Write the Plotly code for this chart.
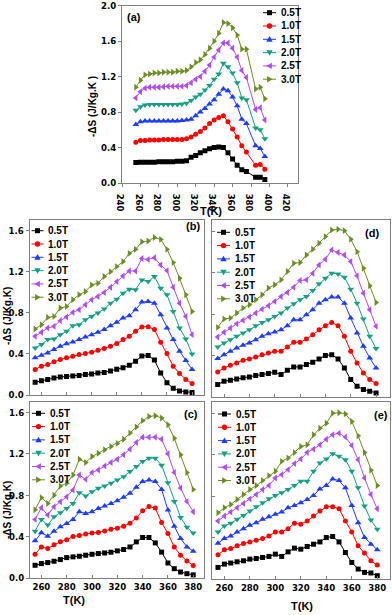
import plotly.graph_objects as go

# temperatures (K)
temps_a = [255, 260, 265, 270, 275, 280, 285, 290, 295, 300, 305, 310, 315, 320,
           325, 330, 335, 340, 345, 350, 355, 360, 365, 370, 375, 385, 390, 395]
temps = [255, 260, 265, 270, 275, 280, 285, 290, 295, 300, 305, 310, 315, 320,
         325, 330, 335, 340, 345, 350, 355, 360, 365, 370, 375, 380]

fields = ['0.5T', '1.0T', '1.5T', '2.0T', '2.5T', '3.0T']

# panel (a)
a_05 = [0.23, 0.235, 0.235, 0.235, 0.235, 0.24, 0.24, 0.24, 0.24, 0.245, 0.245, 0.25,
        0.29, 0.31, 0.34, 0.365, 0.385, 0.40, 0.405, 0.40, 0.34, 0.27, 0.20, 0.15, 0.13,
        0.065, 0.065, 0.04]
a_10 = [0.46, 0.48, 0.48, 0.485, 0.485, 0.485, 0.49, 0.49, 0.49, 0.49, 0.49, 0.50,
        0.52, 0.55, 0.58, 0.62, 0.67, 0.71, 0.74, 0.76, 0.69, 0.61, 0.52, 0.42, 0.35,
        0.20, 0.21, 0.155]
a_15 = [0.66, 0.69, 0.70, 0.70, 0.70, 0.70, 0.70, 0.70, 0.70, 0.70, 0.705, 0.71,
        0.72, 0.76, 0.80, 0.84, 0.89, 0.94, 1.00, 1.06, 1.04, 0.97, 0.87, 0.72, 0.67,
        0.42, 0.39, 0.30]
a_20 = [0.82, 0.86, 0.88, 0.885, 0.885, 0.885, 0.885, 0.885, 0.885, 0.885, 0.89, 0.90,
        0.93, 0.97, 1.00, 1.05, 1.10, 1.17, 1.23, 1.35, 1.31, 1.24, 1.13, 0.96, 0.94,
        0.62, 0.60, 0.50]
a_25 = [0.96, 1.03, 1.07, 1.08, 1.08, 1.08, 1.085, 1.09, 1.09, 1.09, 1.09, 1.10,
        1.13, 1.17, 1.20, 1.26, 1.33, 1.42, 1.50, 1.58, 1.58, 1.52, 1.42, 1.27, 1.19,
        0.83, 0.85, 0.71]
a_30 = [1.08, 1.16, 1.22, 1.23, 1.24, 1.24, 1.25, 1.25, 1.25, 1.26, 1.26, 1.27,
        1.31, 1.36, 1.39, 1.45, 1.52, 1.60, 1.69, 1.81, 1.80, 1.75, 1.67, 1.51, 1.51,
        1.06, 1.08, 0.95]

# panel (b)
b_05 = [0.125, 0.14, 0.15, 0.165, 0.175, 0.18, 0.185, 0.19, 0.20, 0.205, 0.215, 0.22, 0.235,
        0.25, 0.265, 0.29, 0.33, 0.38, 0.385, 0.34, 0.215, 0.12, 0.065, 0.04, 0.03, 0.025]
b_10 = [0.249, 0.281, 0.297, 0.323, 0.346, 0.362, 0.378, 0.394, 0.404, 0.417, 0.436, 0.452, 0.475,
        0.501, 0.540, 0.572, 0.62, 0.663, 0.666, 0.637, 0.514, 0.404, 0.281, 0.210, 0.152, 0.113]
b_15 = [0.362, 0.388, 0.41, 0.443, 0.475, 0.50, 0.517, 0.54, 0.566, 0.588, 0.611, 0.637, 0.675,
        0.708, 0.75, 0.772, 0.83, 0.905, 0.911, 0.895, 0.782, 0.653, 0.54, 0.427, 0.336, 0.249]
b_20 = [0.459, 0.491, 0.54, 0.546, 0.588, 0.62, 0.675, 0.685, 0.734, 0.766, 0.80, 0.837, 0.895,
        0.934, 0.992, 1.031, 1.025, 1.12, 1.105, 1.154, 1.04, 0.976, 0.814, 0.653, 0.546, 0.40]
b_25 = [0.572, 0.611, 0.653, 0.669, 0.724, 0.76, 0.805, 0.83, 0.879, 0.928, 0.96, 0.999, 1.05,
        1.105, 1.16, 1.209, 1.209, 1.33, 1.32, 1.338, 1.267, 1.212, 1.05, 0.895, 0.766, 0.588]
b_30 = [0.643, 0.685, 0.756, 0.766, 0.847, 0.863, 0.928, 0.976, 1.008, 1.073, 1.089, 1.154, 1.202,
        1.251, 1.30, 1.38, 1.419, 1.493, 1.50, 1.535, 1.516, 1.419, 1.29, 1.138, 0.976, 0.814]

# panel (d)
d_05 = [0.116, 0.148, 0.158, 0.171, 0.181, 0.19, 0.203, 0.213, 0.223, 0.235, 0.213, 0.255, 0.287,
        0.287, 0.31, 0.332, 0.365, 0.397, 0.406, 0.365, 0.277, 0.165, 0.10, 0.068, 0.052, 0.035]
d_10 = [0.239, 0.277, 0.303, 0.326, 0.352, 0.365, 0.384, 0.406, 0.423, 0.439, 0.439, 0.481, 0.526,
        0.526, 0.558, 0.60, 0.648, 0.687, 0.719, 0.687, 0.584, 0.439, 0.326, 0.229, 0.165, 0.126]
d_15 = [0.368, 0.406, 0.439, 0.471, 0.497, 0.519, 0.552, 0.584, 0.61, 0.626, 0.648, 0.687, 0.745,
        0.745, 0.794, 0.842, 0.906, 0.939, 0.965, 0.965, 0.906, 0.761, 0.616, 0.487, 0.374, 0.277]
d_20 = [0.481, 0.519, 0.552, 0.584, 0.616, 0.648, 0.687, 0.719, 0.745, 0.777, 0.81, 0.858, 0.90,
        0.939, 0.971, 1.029, 1.094, 1.148, 1.197, 1.19, 1.158, 1.042, 0.906, 0.752, 0.584, 0.465]
d_25 = [0.577, 0.623, 0.665, 0.706, 0.739, 0.771, 0.81, 0.848, 0.881, 0.923, 0.971, 1.01, 1.061,
        1.126, 1.132, 1.197, 1.277, 1.332, 1.423, 1.397, 1.374, 1.31, 1.171, 1.003, 0.842, 0.681]
d_30 = [0.671, 0.752, 0.761, 0.81, 0.858, 0.89, 0.939, 0.987, 1.052, 1.084, 1.132, 1.213, 1.294,
        1.30, 1.374, 1.429, 1.487, 1.552, 1.616, 1.623, 1.61, 1.526, 1.406, 1.245, 1.074, 0.913]

# panel (c)
c_05 = [0.123, 0.139, 0.149, 0.162, 0.178, 0.197, 0.204, 0.21, 0.22, 0.229, 0.236, 0.242, 0.249,
        0.262, 0.275, 0.30, 0.349, 0.391, 0.391, 0.339, 0.25, 0.145, 0.09, 0.058, 0.042, 0.03]
c_10 = [0.23, 0.30, 0.285, 0.32, 0.35, 0.37, 0.40, 0.41, 0.425, 0.435, 0.44, 0.455, 0.47,
        0.48, 0.50, 0.53, 0.58, 0.65, 0.69, 0.675, 0.535, 0.43, 0.30, 0.22, 0.165, 0.12]
c_15 = [0.359, 0.436, 0.404, 0.452, 0.494, 0.527, 0.566, 0.64, 0.624, 0.64, 0.672, 0.695, 0.72,
        0.747, 0.779, 0.818, 0.876, 0.931, 0.947, 0.931, 0.856, 0.656, 0.50, 0.381, 0.30, 0.259]
c_20 = [0.452, 0.566, 0.511, 0.591, 0.63, 0.672, 0.72, 0.824, 0.792, 0.834, 0.866, 0.889, 0.915,
        0.947, 0.979, 1.028, 1.076, 1.125, 1.157, 1.157, 1.09, 0.92, 0.74, 0.585, 0.49, 0.435]
c_25 = [0.566, 0.679, 0.608, 0.688, 0.737, 0.785, 0.85, 0.995, 0.953, 1.018, 1.044, 1.083, 1.115,
        1.147, 1.19, 1.244, 1.309, 1.36, 1.36, 1.36, 1.34, 1.20, 1.02, 0.87, 0.74, 0.64]
c_30 = [0.66, 0.776, 0.72, 0.80, 0.889, 0.915, 0.995, 1.147, 1.115, 1.173, 1.205, 1.238, 1.27,
        1.30, 1.34, 1.40, 1.458, 1.52, 1.56, 1.568, 1.545, 1.48, 1.35, 1.19, 1.018, 0.856]

# panel (e)
e_05 = [0.112, 0.144, 0.154, 0.166, 0.176, 0.192, 0.198, 0.208, 0.218, 0.24, 0.218, 0.262, 0.298,
        0.288, 0.314, 0.336, 0.358, 0.40, 0.41, 0.358, 0.256, 0.16, 0.096, 0.064, 0.058, 0.032]
e_10 = [0.234, 0.282, 0.294, 0.32, 0.342, 0.358, 0.374, 0.39, 0.416, 0.454, 0.454, 0.486, 0.538,
        0.528, 0.56, 0.608, 0.656, 0.698, 0.698, 0.678, 0.56, 0.454, 0.32, 0.25, 0.176, 0.134]
e_15 = [0.346, 0.39, 0.416, 0.454, 0.486, 0.518, 0.544, 0.576, 0.602, 0.624, 0.646, 0.688, 0.71,
        0.736, 0.768, 0.806, 0.87, 0.902, 0.966, 0.95, 0.88, 0.71, 0.544, 0.40, 0.336, 0.282]
e_20 = [0.454, 0.512, 0.538, 0.576, 0.614, 0.656, 0.698, 0.736, 0.774, 0.806, 0.832, 0.864, 0.902,
        0.944, 0.944, 1.04, 1.12, 1.158, 1.21, 1.184, 1.152, 1.04, 0.88, 0.704, 0.57, 0.48]
e_25 = [0.56, 0.608, 0.646, 0.688, 0.73, 0.774, 0.816, 0.864, 0.902, 0.976, 1.008, 1.056, 1.114,
        1.158, 1.222, 1.254, 1.296, 1.35, 1.392, 1.408, 1.37, 1.29, 1.152, 0.976, 0.816, 0.678]
e_30 = [0.64, 0.688, 0.72, 0.768, 0.816, 0.864, 0.902, 0.95, 0.998, 1.04, 1.136, 1.168, 1.222,
        1.28, 1.296, 1.392, 1.456, 1.504, 1.60, 1.606, 1.594, 1.52, 1.382, 1.222, 1.05, 0.902]

colors = ['#000000', '#ff0000', '#1f3dff', '#16a083', '#b04cf0', '#6b8e23']
symbols = ['square', 'circle', 'triangle-up', 'triangle-down', 'triangle-left', 'triangle-right']

W, H = 392, 615
FRAME = '#808080'
FONT = 'Liberation Sans Narrow, DejaVu Sans Condensed, Liberation Sans, Arial'


def fx(p):
    return p / W


def fy(p):
    return 1 - p / H


# pixel boxes of each panel: left, right, top, bottom
panels = [
    dict(tag='(a)', n='', t=temps_a, data=[a_05, a_10, a_15, a_20, a_25, a_30],
         box=(122, 298, 5.7, 183), xr=[240, 431], yr=[0, 2.0], xlab=True, ylab=True,
         xt='outside', yt='outside', tick0=240,
         leg=(263, 276, 279, 12.7), lab=(133.5, 17)),
    dict(tag='(b)', n='2', t=temps, data=[b_05, b_10, b_15, b_20, b_25, b_30],
         box=(29.5, 204, 219.5, 395), xr=[250.5, 389.5], yr=[0, 1.71], xlab=False, ylab=True,
         xt='inside', yt='outside', tick0=260,
         leg=(31.5, 43.5, 46, 230.7), lab=(193, 226)),
    dict(tag='(d)', n='3', t=temps, data=[d_05, d_10, d_15, d_20, d_25, d_30],
         box=(212, 390, 219.5, 396.5), xr=[250.5, 391], yr=[0, 1.718], xlab=False, ylab=False,
         xt='inside', yt='inside', tick0=260,
         leg=(217, 230, 233, 232.3), lab=(371.5, 233.5)),
    dict(tag='(c)', n='4', t=temps, data=[c_05, c_10, c_15, c_20, c_25, c_30],
         box=(30, 204, 402, 578), xr=[251, 388.5], yr=[0, 1.70], xlab=True, ylab=True,
         xt='inside', yt='outside', tick0=260,
         leg=(32, 45, 48, 413.3), lab=(191, 414)),
    dict(tag='(e)', n='5', t=temps, data=[e_05, e_10, e_15, e_20, e_25, e_30],
         box=(212, 390, 402, 579), xr=[250.3, 390], yr=[0, 1.709], xlab=True, ylab=False,
         xt='inside', yt='inside', tick0=260,
         leg=(218, 231, 234, 414), lab=(381, 415)),
]

fig = go.Figure()
tick_font = dict(family=FONT, size=9.5, color='black', weight='bold')
lab_font = dict(family='Liberation Sans, Arial', size=11, color='black', weight='bold')

marker_paths = {
    'square': 'M-2.5,-2.5H2.5V2.5H-2.5Z',
    'triangle-up': 'M0,3.2L3.2,-2.4L-3.2,-2.4Z',
    'triangle-down': 'M0,-3.2L3.2,2.4L-3.2,2.4Z',
    'triangle-left': 'M-3.2,0L2.4,3.2L2.4,-3.2Z',
    'triangle-right': 'M3.2,0L-2.4,3.2L-2.4,-3.2Z',
}

for p in panels:
    n = p['n']
    for name, vals, col, sym in zip(fields, p['data'], colors, symbols):
        fig.add_trace(go.Scatter(
            x=p['t'], y=vals, mode='lines+markers', name=name, showlegend=False,
            xaxis='x' + n, yaxis='y' + n,
            line=dict(color=col, width=1),
            marker=dict(symbol=sym, color=col, size=5 if sym in ('square', 'circle') else 6,
                        line=dict(width=0)),
        ))
    x0, x1, y0, y1 = p['box']
    fig.layout['xaxis' + n] = dict(
        domain=[fx(x0), fx(x1)], range=p['xr'], anchor='y' + n, automargin=False,
        showline=True, mirror=True, linecolor=FRAME, linewidth=1,
        ticks=p['xt'], ticklen=3, tickcolor=FRAME, tick0=p['tick0'], dtick=20,
        showgrid=False, zeroline=False, showticklabels=p['xlab'], tickfont=tick_font)
    fig.layout['yaxis' + n] = dict(
        domain=[fy(y1), fy(y0)], range=p['yr'], anchor='x' + n, automargin=False,
        showline=True, mirror=True, linecolor=FRAME, linewidth=1,
        ticks=p['yt'], ticklen=3, tickcolor=FRAME, tick0=0, dtick=0.4, tickformat='.1f',
        showgrid=False, zeroline=False, showticklabels=p['ylab'], tickfont=tick_font)

    # legend drawn as small glyphs next to each field name
    lx0, lx1, tx, ly = p['leg']
    for i, (name, col, sym) in enumerate(zip(fields, colors, symbols)):
        yy = ly + i * 13.3
        xc = (lx0 + lx1) / 2
        fig.add_shape(type='line', xref='paper', yref='paper', x0=fx(lx0), x1=fx(lx1),
                      y0=fy(yy), y1=fy(yy), line=dict(color=col, width=1))
        if sym == 'circle':
            fig.add_shape(type='circle', xref='paper', yref='paper', xsizemode='pixel',
                          ysizemode='pixel', xanchor=fx(xc), yanchor=fy(yy),
                          x0=-2.7, x1=2.7, y0=-2.7, y1=2.7, fillcolor=col, line=dict(width=0))
        else:
            fig.add_shape(type='path', xref='paper', yref='paper', xsizemode='pixel',
                          ysizemode='pixel', xanchor=fx(xc), yanchor=fy(yy),
                          path=marker_paths[sym], fillcolor=col, line=dict(width=0))
        fig.add_annotation(x=fx(tx), y=fy(yy), xref='paper', yref='paper', text=name,
                           showarrow=False, xanchor='left', yanchor='middle',
                           font=dict(family='Liberation Sans, Arial', size=10, color='black',
                                     weight='bold'))
    fig.add_annotation(x=fx(p['lab'][0]), y=fy(p['lab'][1]), xref='paper', yref='paper',
                       text=p['tag'], showarrow=False, xanchor='center', yanchor='middle',
                       font=lab_font)

# axis titles
ytitle_font = dict(family='Liberation Sans, Arial', size=10, color='black', weight='bold')
for txt, x, y in [('-ΔS (J/Kg.K )', 93, 107), ('-ΔS (J/Kg.K)', 7, 316), ('-ΔS (J/Kg.K)', 7, 510)]:
    fig.add_annotation(x=fx(x), y=fy(y), xref='paper', yref='paper', text=txt, textangle=-90,
                       showarrow=False, xanchor='center', yanchor='middle', font=ytitle_font)
for x, y in [(211, 211), (74, 600), (302, 606)]:
    fig.add_annotation(x=fx(x), y=fy(y), xref='paper', yref='paper', text='T(K)',
                       showarrow=False, xanchor='center', yanchor='middle',
                       font=dict(family='Liberation Sans, Arial', size=11,
                                 color='black', weight='bold'))

fig.update_layout(template='none', width=W, height=H, margin=dict(l=0, r=0, t=0, b=0, pad=0),
                  autosize=False, paper_bgcolor='white', plot_bgcolor='white', showlegend=False)

fig.write_html("out.html", config={'displayModeBar': False, 'staticPlot': True},
               post_script="document.body.style.margin='0px';")
